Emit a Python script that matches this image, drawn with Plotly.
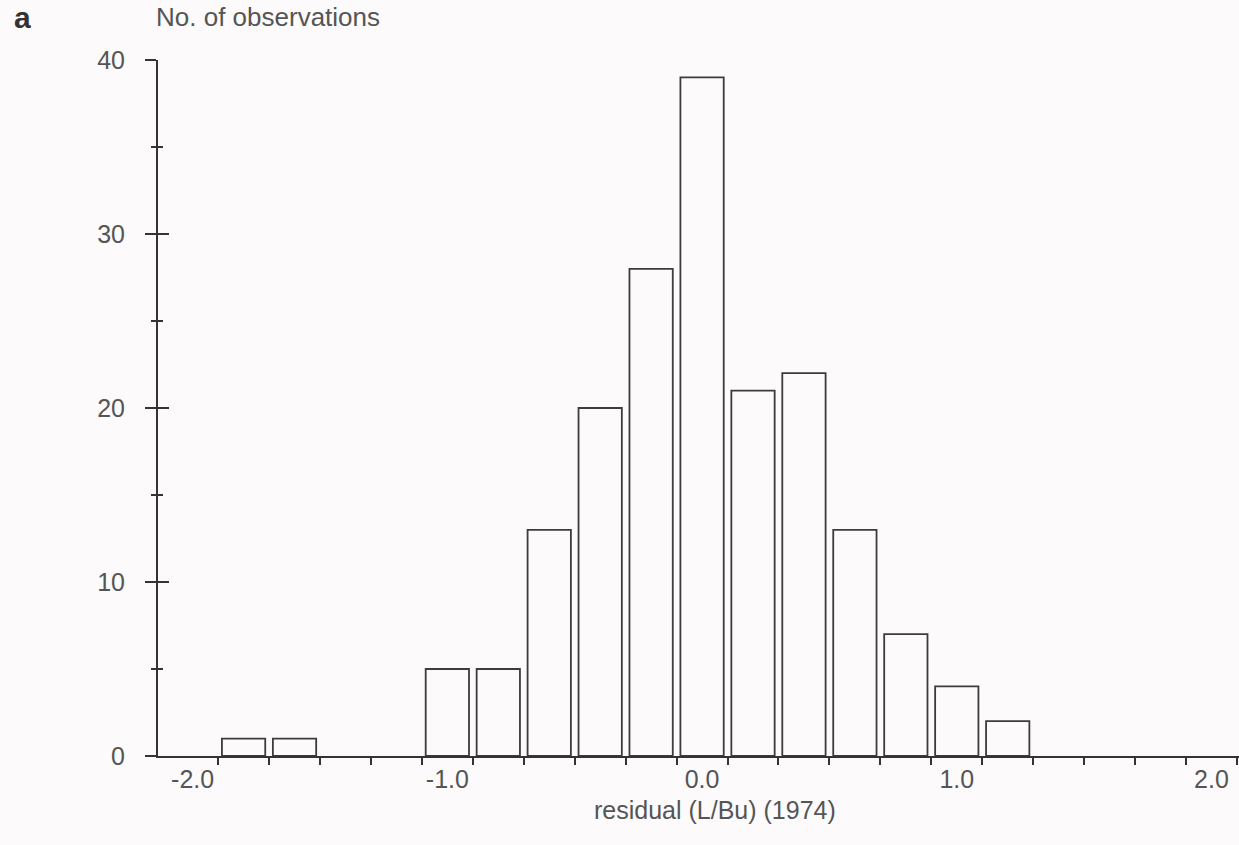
import plotly.graph_objects as go

# Histogram data
bin_centers = [-1.8, -1.6, -1.4, -1.2, -1.0, -0.8, -0.6, -0.4, -0.2, 0.0,
               0.2, 0.4, 0.6, 0.8, 1.0, 1.2]
counts = [1, 1, 0, 0, 5, 5, 13, 20, 28, 39, 21, 22, 13, 7, 4, 2]

x_label_vals = [-2.0, -1.0, 0.0, 1.0, 2.0]
x_label_text = ["-2.0", "-1.0", "0.0", "1.0", "2.0"]
x_tick_marks = [-1.9, -1.7, -1.5, -1.3, -1.1, -0.9, -0.7, -0.5, -0.3, -0.1,
                0.1, 0.3, 0.5, 0.7, 0.9, 1.1, 1.3, 1.5, 1.7, 1.9, 2.1]
y_major = [0, 10, 20, 30, 40]
y_minor = [5, 15, 25, 35]

W, H = 1239, 845
L, R, T, B = 158, 0, 60, 89
pw, ph = W - L - R, H - T - B

LINE = "#333333"
TXT = "#555555"
FONT = "Liberation Sans, Arial, Helvetica, sans-serif"
BG = "#fcfafa"

# empty bins get no outline (nothing drawn there in the original)
outline_widths = [1.8 if c > 0 else 0 for c in counts]

fig = go.Figure()
fig.add_trace(go.Bar(
    x=bin_centers, y=counts, width=0.17,
    marker=dict(color="rgba(0,0,0,0)", line=dict(color="#3c3c3c", width=outline_widths)),
    showlegend=False, hoverinfo="x+y",
))
# invisible helper trace so the overlaid (inside-tick) y axis is drawn
fig.add_trace(go.Scatter(x=[bin_centers[0]], y=[0], yaxis="y2", mode="markers",
                         marker=dict(opacity=0), showlegend=False, hoverinfo="skip"))

fig.update_layout(
    width=W, height=H,
    margin=dict(l=L, r=R, t=T, b=B, pad=0),
    paper_bgcolor=BG, plot_bgcolor=BG,
    font=dict(family=FONT, size=25, color=TXT),
    xaxis=dict(
        range=[-2.136, 2.108], showgrid=False, zeroline=False,
        showline=True, linecolor=LINE, linewidth=2,
        tickmode="array", tickvals=x_label_vals, ticktext=x_label_text,
        ticks="outside", ticklen=0, tickcolor=BG,
        ticklabelstandoff=0,
        tickfont=dict(size=25, color=TXT, family=FONT),
        minor=dict(tickmode="array", tickvals=x_tick_marks, ticks="outside",
                   ticklen=7, tickwidth=2, tickcolor=LINE, showgrid=False),
    ),
    yaxis=dict(
        range=[0, 40], showgrid=False, zeroline=False,
        showline=True, linecolor=LINE, linewidth=2,
        tickmode="array", tickvals=y_major, ticktext=[str(v) for v in y_major],
        ticks="outside", ticklen=11, tickwidth=2, tickcolor=LINE,
        ticklabelstandoff=15,
        tickfont=dict(size=25, color=TXT, family=FONT),
        minor=dict(tickmode="array", tickvals=y_minor, ticks="outside",
                   ticklen=5, tickwidth=2, tickcolor=LINE, showgrid=False),
    ),
    yaxis2=dict(
        range=[0, 40], overlaying="y", side="left", anchor="x",
        showgrid=False, zeroline=False, showline=False,
        tickmode="array", tickvals=y_major, showticklabels=False,
        ticks="inside", ticklen=11, tickwidth=2, tickcolor=LINE,
        minor=dict(tickmode="array", tickvals=y_minor, ticks="inside",
                   ticklen=5, tickwidth=2, tickcolor=LINE, showgrid=False),
    ),
    annotations=[
        dict(text="<b>a</b>", xref="paper", yref="paper",
             x=(12 - L) / pw, y=(H - B - 17) / ph, xanchor="left", yanchor="middle",
             showarrow=False, font=dict(size=30, color="#333333", family=FONT)),
        dict(text="No. of observations", xref="paper", yref="paper",
             x=(154 - L) / pw, y=(H - B - 17) / ph, xanchor="left", yanchor="middle",
             showarrow=False, font=dict(size=26, color=TXT, family=FONT)),
        dict(text="residual (L/Bu) (1974)", xref="paper", yref="paper",
             x=(715 - L) / pw, y=(H - B - 810) / ph, xanchor="center", yanchor="middle",
             showarrow=False, font=dict(size=25, color=TXT, family=FONT)),
    ],
)

fig.write_html("out.html")
